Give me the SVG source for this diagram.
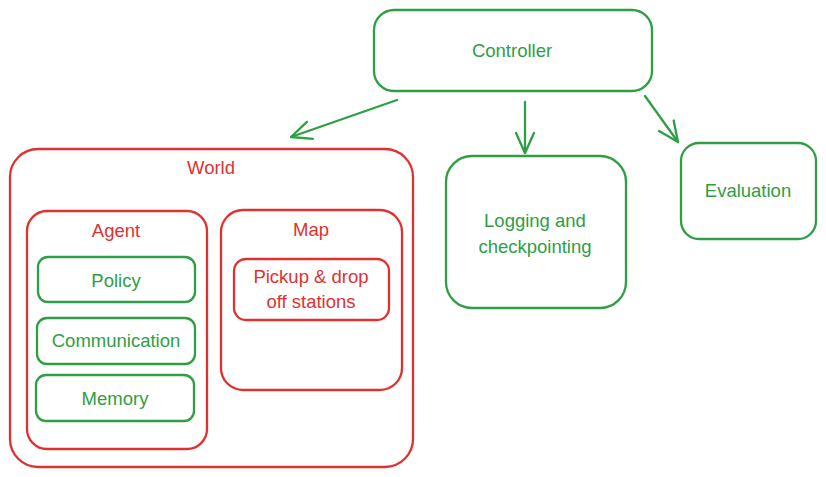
<svg xmlns="http://www.w3.org/2000/svg" width="826" height="477" viewBox="0 0 826 477">
<defs>
<style>
.g{fill:none;stroke:#2f9e44;stroke-width:2.3;}
.r{fill:none;stroke:#e03131;stroke-width:2.3;}
.tg{fill:#2f9e44;font-family:"Liberation Sans",Arial,sans-serif;font-size:18.5px;text-anchor:middle;dominant-baseline:central;}
.tr{fill:#e03131;font-family:"Liberation Sans",Arial,sans-serif;font-size:18.5px;text-anchor:middle;dominant-baseline:central;}
.c{fill:none;stroke:#2f9e44;stroke-width:2.3;stroke-linecap:round;}
</style>
<marker id="ah" viewBox="0 0 24 24" refX="22" refY="12" markerWidth="24" markerHeight="24" markerUnits="userSpaceOnUse" orient="auto">
<polyline points="2,3 22,12 2,21" fill="none" stroke="#2f9e44" stroke-width="2.3" stroke-linecap="round" stroke-linejoin="round"/>
</marker>
</defs>
<rect width="826" height="477" fill="#ffffff"/>
<g id="controller">
<rect class="g" x="374" y="10" width="278" height="81" rx="20"/>
<text class="tg" x="512" y="50">Controller</text>
</g>
<g id="world">
<rect class="r" x="10" y="149" width="403" height="318" rx="28"/>
<text class="tr" x="211" y="167">World</text>
</g>
<g id="agent">
<rect class="r" x="27" y="211" width="180" height="238" rx="20"/>
<text class="tr" x="116" y="230">Agent</text>
</g>
<g id="policy">
<rect class="g" x="38" y="257" width="157" height="45" rx="10"/>
<text class="tg" x="116" y="280">Policy</text>
</g>
<g id="communication">
<rect class="g" x="37" y="318" width="158" height="46" rx="10"/>
<text class="tg" x="116" y="340">Communication</text>
</g>
<g id="memory">
<rect class="g" x="36" y="375" width="158" height="46" rx="10"/>
<text class="tg" x="115" y="398">Memory</text>
</g>
<g id="map">
<rect class="r" x="221" y="210" width="181" height="180" rx="22"/>
<text class="tr" x="311" y="229">Map</text>
</g>
<g id="stations">
<rect class="r" x="234" y="259" width="155" height="61" rx="12"/>
<text class="tr" x="311" y="276">Pickup &amp; drop</text>
<text class="tr" x="311" y="301">off stations</text>
</g>
<g id="logging">
<rect class="g" x="446" y="156" width="180" height="152" rx="26"/>
<text class="tg" x="535" y="220">Logging and</text>
<text class="tg" x="535" y="246">checkpointing</text>
</g>
<g id="evaluation">
<rect class="g" x="681" y="143" width="135" height="96" rx="18"/>
<text class="tg" x="748" y="190">Evaluation</text>
</g>
<g id="connectors">
<line class="c" x1="397" y1="100" x2="291" y2="137" marker-end="url(#ah)"/>
<line class="c" x1="525" y1="102" x2="525" y2="153" marker-end="url(#ah)"/>
<line class="c" x1="645" y1="96" x2="678" y2="142" marker-end="url(#ah)"/>
</g>
</svg>
